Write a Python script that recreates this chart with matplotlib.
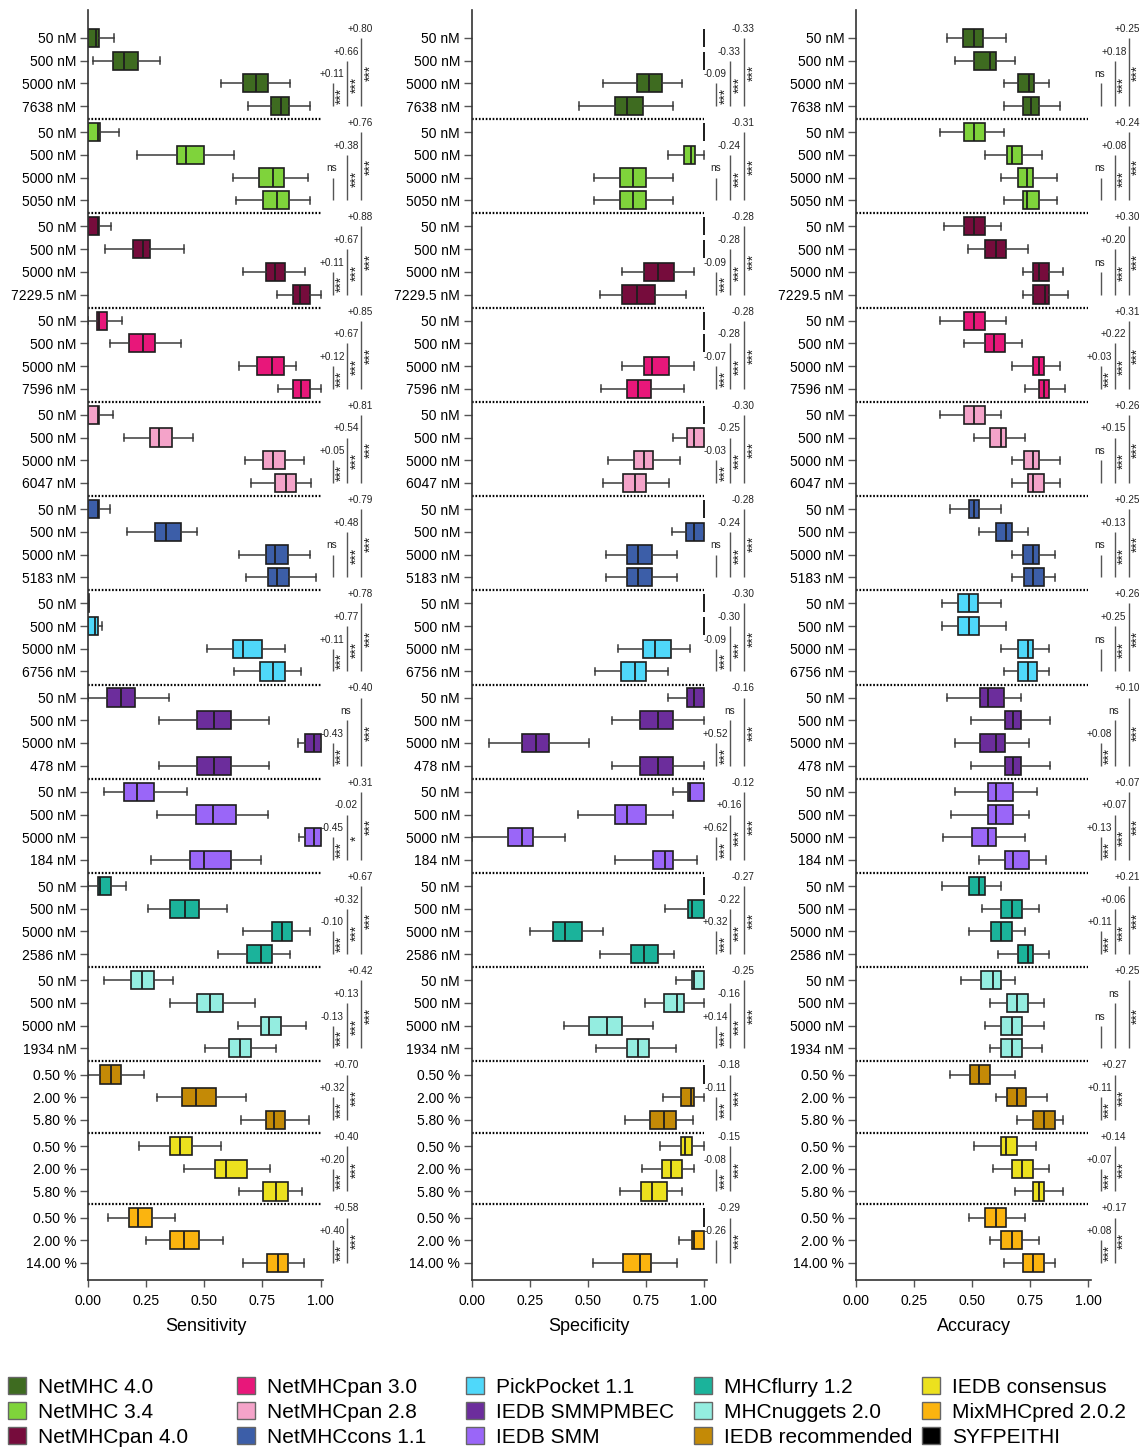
import matplotlib
matplotlib.use("Agg")
import matplotlib.pyplot as plt
from matplotlib.patches import Patch

plt.rcParams["font.family"] = ["Liberation Sans", "DejaVu Sans"]

# ---------------------------------------------------------------- data
tools = ["NetMHC 4.0", "NetMHC 3.4", "NetMHCpan 4.0", "NetMHCpan 3.0",
         "NetMHCpan 2.8", "NetMHCcons 1.1", "PickPocket 1.1", "IEDB SMMPMBEC",
         "IEDB SMM", "MHCflurry 1.2", "MHCnuggets 2.0", "IEDB recommended",
         "IEDB consensus", "MixMHCpred 2.0.2"]
legend_tools = tools + ["SYFPEITHI"]

tool_colors = ["#3e6b20", "#7fd33b", "#760c3c", "#e8177a", "#f4a3c9",
               "#3c5ea8", "#4fd8fa", "#6c2d9c", "#9a66f8", "#1bb39b",
               "#94ede0", "#c48a06", "#ece11e", "#fbb40f", "#000000"]

thresholds = [
    ["50 nM", "500 nM", "5000 nM", "7638 nM"],
    ["50 nM", "500 nM", "5000 nM", "5050 nM"],
    ["50 nM", "500 nM", "5000 nM", "7229.5 nM"],
    ["50 nM", "500 nM", "5000 nM", "7596 nM"],
    ["50 nM", "500 nM", "5000 nM", "6047 nM"],
    ["50 nM", "500 nM", "5000 nM", "5183 nM"],
    ["50 nM", "500 nM", "5000 nM", "6756 nM"],
    ["50 nM", "500 nM", "5000 nM", "478 nM"],
    ["50 nM", "500 nM", "5000 nM", "184 nM"],
    ["50 nM", "500 nM", "5000 nM", "2586 nM"],
    ["50 nM", "500 nM", "5000 nM", "1934 nM"],
    ["0.50 %", "2.00 %", "5.80 %"],
    ["0.50 %", "2.00 %", "5.80 %"],
    ["0.50 %", "2.00 %", "14.00 %"],
]

# box statistics per row: (whisker low, Q1, median, Q3, whisker high)
ONE = (1.0, 1.0, 1.0, 1.0, 1.0)

sensitivity_boxes = [
    [(0.0, 0.0, 0.035, 0.045, 0.11), (0.019, 0.108, 0.154, 0.216, 0.31),
     (0.571, 0.668, 0.724, 0.773, 0.869), (0.687, 0.786, 0.829, 0.866, 0.956)],
    [(0.0, 0.0, 0.043, 0.052, 0.134), (0.211, 0.381, 0.421, 0.5, 0.629),
     (0.625, 0.734, 0.795, 0.841, 0.948), (0.634, 0.754, 0.812, 0.866, 0.953)],
    [(0.0, 0.0, 0.04, 0.047, 0.096), (0.073, 0.191, 0.234, 0.267, 0.412),
     (0.668, 0.766, 0.805, 0.845, 0.934), (0.812, 0.881, 0.912, 0.953, 1.0)],
    [(0.0, 0.039, 0.047, 0.082, 0.147), (0.094, 0.174, 0.234, 0.289, 0.398),
     (0.651, 0.728, 0.793, 0.841, 0.895), (0.816, 0.881, 0.916, 0.953, 1.0)],
    [(0.0, 0.0, 0.043, 0.047, 0.108), (0.155, 0.267, 0.306, 0.359, 0.453),
     (0.675, 0.754, 0.795, 0.845, 0.931), (0.7, 0.805, 0.852, 0.895, 0.96)],
    [(0.0, 0.0, 0.043, 0.047, 0.094), (0.168, 0.289, 0.334, 0.401, 0.466),
     (0.651, 0.764, 0.805, 0.858, 0.953), (0.678, 0.776, 0.812, 0.866, 0.98)],
    [(0.0, 0.0, 0.0, 0.002, 0.004), (0.0, 0.0, 0.03, 0.04, 0.06),
     (0.512, 0.621, 0.668, 0.75, 0.845), (0.629, 0.741, 0.795, 0.848, 0.914)],
    [(0.0, 0.082, 0.14, 0.2, 0.346), (0.305, 0.467, 0.54, 0.616, 0.779),
     (0.903, 0.935, 0.97, 1.0, 1.0), (0.305, 0.467, 0.54, 0.616, 0.779)],
    [(0.066, 0.155, 0.209, 0.284, 0.424), (0.297, 0.464, 0.539, 0.638, 0.776),
     (0.908, 0.935, 0.97, 1.0, 1.0), (0.269, 0.44, 0.5, 0.616, 0.744)],
    [(0.0, 0.04, 0.05, 0.099, 0.163), (0.256, 0.353, 0.417, 0.476, 0.598),
     (0.668, 0.793, 0.836, 0.879, 0.956), (0.558, 0.683, 0.743, 0.79, 0.869)],
    [(0.068, 0.183, 0.233, 0.284, 0.363), (0.352, 0.467, 0.523, 0.578, 0.716),
     (0.644, 0.743, 0.78, 0.828, 0.938), (0.502, 0.605, 0.655, 0.701, 0.808)],
    [(0.0, 0.05, 0.098, 0.142, 0.24), (0.297, 0.402, 0.464, 0.549, 0.678),
     (0.658, 0.764, 0.8, 0.845, 0.951)],
    [(0.219, 0.352, 0.395, 0.448, 0.571), (0.412, 0.545, 0.593, 0.683, 0.783),
     (0.647, 0.754, 0.809, 0.858, 0.92)],
    [(0.084, 0.175, 0.216, 0.273, 0.374), (0.247, 0.353, 0.412, 0.476, 0.578),
     (0.668, 0.769, 0.819, 0.858, 0.931)],
]

specificity_boxes = [
    [ONE, ONE, (0.567, 0.712, 0.764, 0.819, 0.904), (0.46, 0.615, 0.669, 0.738, 0.865)],
    [ONE, (0.845, 0.914, 0.946, 0.96, 1.0),
     (0.526, 0.639, 0.696, 0.751, 0.865), (0.526, 0.639, 0.696, 0.751, 0.865)],
    [ONE, ONE, (0.648, 0.742, 0.804, 0.871, 0.956), (0.554, 0.648, 0.712, 0.791, 0.924)],
    [ONE, ONE, (0.648, 0.742, 0.778, 0.85, 0.956), (0.557, 0.669, 0.715, 0.774, 0.913)],
    [ONE, (0.868, 0.927, 0.956, 1.0, 1.0),
     (0.586, 0.698, 0.741, 0.781, 0.895), (0.566, 0.652, 0.702, 0.751, 0.85)],
    [ONE, (0.862, 0.924, 0.956, 1.0, 1.0),
     (0.577, 0.669, 0.716, 0.778, 0.885), (0.577, 0.669, 0.716, 0.778, 0.885)],
    [ONE, ONE, (0.63, 0.738, 0.791, 0.857, 0.94), (0.529, 0.642, 0.702, 0.751, 0.847)],
    [(0.847, 0.927, 0.956, 1.0, 1.0), (0.606, 0.725, 0.804, 0.868, 1.0),
     (0.076, 0.218, 0.279, 0.335, 0.503), (0.606, 0.725, 0.804, 0.868, 1.0)],
    [(0.868, 0.93, 0.938, 1.0, 1.0), (0.456, 0.615, 0.668, 0.751, 0.868),
     (0.0, 0.155, 0.215, 0.265, 0.403), (0.617, 0.782, 0.834, 0.867, 0.971)],
    [ONE, (0.834, 0.931, 0.948, 1.0, 1.0),
     (0.251, 0.351, 0.403, 0.476, 0.564), (0.554, 0.686, 0.742, 0.802, 0.871)],
    [(0.881, 0.95, 0.958, 1.0, 1.0), (0.745, 0.828, 0.883, 0.914, 1.0),
     (0.398, 0.503, 0.582, 0.648, 0.781), (0.537, 0.668, 0.716, 0.764, 0.88)],
    [ONE, (0.824, 0.903, 0.946, 0.957, 1.0), (0.66, 0.769, 0.828, 0.88, 0.954)],
    [(0.809, 0.903, 0.918, 0.95, 1.0), (0.734, 0.821, 0.86, 0.905, 0.956),
     (0.64, 0.731, 0.777, 0.841, 0.904)],
    [ONE, (0.893, 0.95, 0.957, 1.0, 1.0), (0.524, 0.653, 0.725, 0.774, 0.883)],
]

accuracy_boxes = [
    [(0.391, 0.461, 0.509, 0.547, 0.646), (0.427, 0.51, 0.579, 0.603, 0.683),
     (0.637, 0.696, 0.743, 0.766, 0.833), (0.637, 0.719, 0.754, 0.786, 0.879)],
    [(0.36, 0.463, 0.51, 0.556, 0.636), (0.556, 0.649, 0.67, 0.717, 0.799),
     (0.623, 0.696, 0.737, 0.764, 0.866), (0.637, 0.719, 0.737, 0.786, 0.866)],
    [(0.38, 0.463, 0.51, 0.556, 0.624), (0.484, 0.554, 0.603, 0.646, 0.74),
     (0.719, 0.764, 0.789, 0.833, 0.891), (0.719, 0.764, 0.813, 0.833, 0.914)],
    [(0.36, 0.463, 0.51, 0.556, 0.647), (0.463, 0.554, 0.596, 0.641, 0.717),
     (0.671, 0.764, 0.789, 0.81, 0.879), (0.729, 0.789, 0.811, 0.833, 0.901)],
    [(0.36, 0.463, 0.51, 0.556, 0.624), (0.509, 0.577, 0.624, 0.646, 0.729),
     (0.671, 0.724, 0.764, 0.786, 0.879), (0.671, 0.74, 0.764, 0.81, 0.879)],
    [(0.404, 0.486, 0.507, 0.529, 0.624), (0.53, 0.601, 0.646, 0.67, 0.74),
     (0.671, 0.719, 0.764, 0.786, 0.856), (0.671, 0.724, 0.764, 0.81, 0.856)],
    [(0.37, 0.44, 0.486, 0.524, 0.624), (0.37, 0.44, 0.486, 0.529, 0.647),
     (0.624, 0.696, 0.74, 0.763, 0.833), (0.637, 0.696, 0.74, 0.781, 0.833)],
    [(0.39, 0.533, 0.57, 0.639, 0.71), (0.497, 0.64, 0.674, 0.709, 0.836),
     (0.426, 0.533, 0.604, 0.64, 0.747), (0.497, 0.64, 0.674, 0.709, 0.836)],
    [(0.426, 0.567, 0.604, 0.674, 0.781), (0.409, 0.567, 0.604, 0.674, 0.746),
     (0.373, 0.499, 0.569, 0.603, 0.729), (0.531, 0.64, 0.674, 0.744, 0.817)],
    [(0.37, 0.486, 0.53, 0.554, 0.624), (0.544, 0.626, 0.67, 0.717, 0.787),
     (0.486, 0.58, 0.624, 0.67, 0.729), (0.613, 0.696, 0.74, 0.764, 0.833)],
    [(0.453, 0.539, 0.589, 0.623, 0.683), (0.579, 0.649, 0.693, 0.739, 0.811),
     (0.556, 0.626, 0.67, 0.717, 0.811), (0.579, 0.626, 0.67, 0.717, 0.799)],
    [(0.404, 0.49, 0.531, 0.577, 0.683), (0.603, 0.649, 0.693, 0.734, 0.821),
     (0.694, 0.764, 0.811, 0.856, 0.89)],
    [(0.509, 0.624, 0.646, 0.693, 0.776), (0.589, 0.67, 0.717, 0.763, 0.833),
     (0.683, 0.764, 0.787, 0.81, 0.891)],
    [(0.486, 0.554, 0.603, 0.647, 0.729), (0.579, 0.626, 0.67, 0.717, 0.787),
     (0.637, 0.719, 0.764, 0.81, 0.857)],
]

# pairwise comparisons per tool, innermost bracket first: (difference, significance)
NS = ("ns", "")
sensitivity_tests = [
    [("+0.11", "***"), ("+0.66", "***"), ("+0.80", "***")],
    [NS, ("+0.38", "***"), ("+0.76", "***")],
    [("+0.11", "***"), ("+0.67", "***"), ("+0.88", "***")],
    [("+0.12", "***"), ("+0.67", "***"), ("+0.85", "***")],
    [("+0.05", "***"), ("+0.54", "***"), ("+0.81", "***")],
    [NS, ("+0.48", "***"), ("+0.79", "***")],
    [("+0.11", "***"), ("+0.77", "***"), ("+0.78", "***")],
    [("-0.43", "***"), NS, ("+0.40", "***")],
    [("-0.45", "***"), ("-0.02", "*"), ("+0.31", "***")],
    [("-0.10", "***"), ("+0.32", "***"), ("+0.67", "***")],
    [("-0.13", "***"), ("+0.13", "***"), ("+0.42", "***")],
    [("+0.32", "***"), ("+0.70", "***")],
    [("+0.20", "***"), ("+0.40", "***")],
    [("+0.40", "***"), ("+0.58", "***")],
]

specificity_tests = [
    [("-0.09", "***"), ("-0.33", "***"), ("-0.33", "***")],
    [NS, ("-0.24", "***"), ("-0.31", "***")],
    [("-0.09", "***"), ("-0.28", "***"), ("-0.28", "***")],
    [("-0.07", "***"), ("-0.28", "***"), ("-0.28", "***")],
    [("-0.03", "***"), ("-0.25", "***"), ("-0.30", "***")],
    [NS, ("-0.24", "***"), ("-0.28", "***")],
    [("-0.09", "***"), ("-0.30", "***"), ("-0.30", "***")],
    [("+0.52", "***"), NS, ("-0.16", "***")],
    [("+0.62", "***"), ("+0.16", "***"), ("-0.12", "***")],
    [("+0.32", "***"), ("-0.22", "***"), ("-0.27", "***")],
    [("+0.14", "***"), ("-0.16", "***"), ("-0.25", "***")],
    [("-0.11", "***"), ("-0.18", "***")],
    [("-0.08", "***"), ("-0.15", "***")],
    [("-0.26", ""), ("-0.29", "***")],
]

accuracy_tests = [
    [NS, ("+0.18", "***"), ("+0.25", "***")],
    [NS, ("+0.08", "***"), ("+0.24", "***")],
    [NS, ("+0.20", "***"), ("+0.30", "***")],
    [("+0.03", "***"), ("+0.22", "***"), ("+0.31", "***")],
    [NS, ("+0.15", "***"), ("+0.26", "***")],
    [NS, ("+0.13", "***"), ("+0.25", "***")],
    [NS, ("+0.25", "***"), ("+0.26", "***")],
    [("+0.08", "***"), NS, ("+0.10", "***")],
    [("+0.13", "***"), ("+0.07", "***"), ("+0.07", "***")],
    [("+0.11", "***"), ("+0.06", "***"), ("+0.21", "***")],
    [NS, NS, ("+0.25", "***")],
    [("+0.11", "***"), ("+0.27", "***")],
    [("+0.07", "***"), ("+0.14", "***")],
    [("+0.08", "***"), ("+0.17", "***")],
]

metrics = ["Sensitivity", "Specificity", "Accuracy"]
metric_boxes = [sensitivity_boxes, specificity_boxes, accuracy_boxes]
metric_tests = [sensitivity_tests, specificity_tests, accuracy_tests]
x_ticks = [0.0, 0.25, 0.5, 0.75, 1.0]
x_ticklabels = ["0.00", "0.25", "0.50", "0.75", "1.00"]

# ---------------------------------------------------------------- layout
W, H = 1142, 1450
GROUP_STEP = 1.15          # row distance across a group boundary
BRACKET_X = [1.053, 1.114, 1.174]

positions, labels, group_rows = [], [], []
y = 0.0
for g, th in enumerate(thresholds):
    rows = []
    for lab in th:
        rows.append(y)
        positions.append(y)
        labels.append(lab)
        y += 1.0
    y += GROUP_STEP - 1.0
    group_rows.append(rows)
last_row = positions[-1]
separators = [(group_rows[g][-1] + group_rows[g + 1][0]) / 2
              for g in range(len(group_rows) - 1)]

fig = plt.figure(figsize=(W / 100, H / 100), dpi=100)
ax_left_px = [88.3, 471.7, 856.0]
ax_w_px = 235.0
ax_top_px, ax_bot_px = 10.0, 1280.0

line_col = "#555555"
edge_col = "#1e1e1e"

for m, metric in enumerate(metrics):
    ax = fig.add_axes([ax_left_px[m] / W, 1 - ax_bot_px / H,
                       ax_w_px / W, (ax_bot_px - ax_top_px) / H])
    boxes = metric_boxes[m]
    tests = metric_tests[m]

    for g, group in enumerate(boxes):
        stats = [dict(whislo=s[0], q1=s[1], med=s[2], q3=s[3], whishi=s[4],
                      fliers=[]) for s in group]
        ax.bxp(stats, positions=group_rows[g], orientation="horizontal",
               widths=0.8, capwidths=0.32, patch_artist=True,
               showfliers=False, manage_ticks=False,
               boxprops=dict(facecolor=tool_colors[g], edgecolor=edge_col,
                             linewidth=1.2),
               medianprops=dict(color=edge_col, linewidth=1.3),
               whiskerprops=dict(color="#3a3a3a", linewidth=1.1),
               capprops=dict(color="#3a3a3a", linewidth=1.1))

        # significance brackets
        rows = group_rows[g]
        n = len(rows)
        for b, (diff, sig) in enumerate(tests[g]):
            top = rows[n - 2 - b]
            bot = rows[-1]
            xb = BRACKET_X[b]
            ax.plot([xb, xb], [top, bot], color=line_col, lw=1.0,
                    clip_on=False, solid_capstyle="butt")
            ax.text(xb - 0.004, top - 0.4, diff, ha="center", va="center",
                    fontsize=7.2, color="#222222", clip_on=False)
            if sig:
                ax.text(xb + 0.04, (top + bot) / 2 + 0.05, sig, rotation=90,
                        ha="center", va="center", fontsize=10,
                        color="#222222", clip_on=False)

    for s in separators:
        ax.plot([0, 1.0], [s, s], color="black", lw=1.6,
                linestyle=(0, (0.75, 0.8)), clip_on=False)

    ax.set_xlim(0, 1.012)
    ax.set_ylim(last_row + 0.75, -1.23)
    ax.set_yticks(positions)
    ax.set_yticklabels(labels, fontsize=10)
    ax.set_xticks(x_ticks)
    ax.set_xticklabels(x_ticklabels, fontsize=10)
    ax.tick_params(axis="y", length=6, width=1.0, color=line_col, pad=2.5)
    ax.tick_params(axis="x", length=5, width=1.0, color=line_col, pad=5)
    ax.set_xlabel(metric, fontsize=13, labelpad=7)
    for side in ("top", "right"):
        ax.spines[side].set_visible(False)
    for side in ("left", "bottom"):
        ax.spines[side].set_color("#333333")
        ax.spines[side].set_linewidth(1.2)
    ax.set_facecolor("none")

# legend: five equal-width columns of three entries
col_x_px = [8, 237, 466, 694, 922]
for c in range(5):
    names = legend_tools[3 * c:3 * c + 3]
    cols = tool_colors[3 * c:3 * c + 3]
    handles = [Patch(facecolor=col, edgecolor="#666666", linewidth=1.0)
               for col in cols]
    fig.legend(handles, names, loc="upper left",
               bbox_to_anchor=(col_x_px[c] / W, 1 - 1377 / H),
               frameon=False, fontsize=15, handlelength=0.85, handleheight=0.85,
               handletextpad=0.6, labelspacing=0.27, borderpad=0,
               borderaxespad=0)

fig.savefig("out.png", dpi=100)
